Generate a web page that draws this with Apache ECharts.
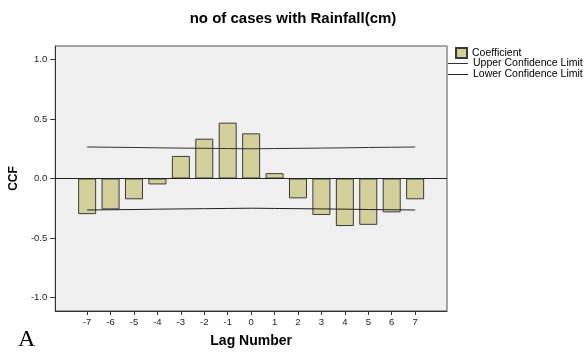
<!DOCTYPE html>
<html>
<head>
<meta charset="utf-8">
<script src="https://cdn.jsdelivr.net/npm/echarts@6/dist/echarts.min.js"></script>
<style>
html,body{margin:0;padding:0;background:#fff;}
#chart{width:584px;height:353px;}
</style>
</head>
<body>
<div id="chart"></div>
<script>
const lags = [-7, -6, -5, -4, -3, -2, -1, 0, 1, 2, 3, 4, 5, 6, 7];
const coefficient = [-0.30, -0.26, -0.175, -0.05, 0.19, 0.335, 0.47, 0.38, 0.045, -0.167, -0.307, -0.40, -0.39, -0.285, -0.175];
const upperLimit = [0.265, 0.263, 0.261, 0.258, 0.256, 0.254, 0.252, 0.25, 0.252, 0.254, 0.256, 0.258, 0.261, 0.263, 0.265];
const lowerLimit = [-0.265, -0.263, -0.261, -0.258, -0.256, -0.254, -0.252, -0.25, -0.252, -0.254, -0.256, -0.258, -0.261, -0.263, -0.265];
const yTicks = [-1.0, -0.5, 0.0, 0.5, 1.0];

const font = '"Liberation Sans", Arial, sans-serif';
const chart = echarts.init(document.getElementById('chart'), null, {renderer: 'canvas'});

chart.setOption({
  animation: false,
  backgroundColor: '#ffffff',
  title: {
    text: 'no of cases with Rainfall(cm)',
    left: 293, top: 11, textAlign: 'center', padding: 0,
    textStyle: {fontFamily: font, fontSize: 15, fontWeight: 'bold', color: '#000'}
  },
  legend: [
    {
      data: [{name: 'Coefficient', icon: 'rect'}],
      left: 455, top: 47, orient: 'vertical', padding: 0,
      itemWidth: 11, itemHeight: 10,
      textStyle: {fontFamily: font, fontSize: 10.5, color: '#000'},
      selectedMode: false
    },
    {
      data: [
        {name: 'Upper Confidence Limit', icon: 'rect'},
        {name: 'Lower Confidence Limit', icon: 'rect'}
      ],
      left: 448, top: 58, orient: 'vertical', padding: 0,
      itemWidth: 20, itemHeight: 1, itemGap: 0,
      textStyle: {fontFamily: font, fontSize: 10.5, color: '#000', lineHeight: 10},
      selectedMode: false
    }
  ],
  grid: {
    left: 53, top: 46, right: 137, bottom: 37,
    show: true, backgroundColor: '#f0f0f0', borderColor: '#555', borderWidth: 1
  },
  xAxis: {
    type: 'value', min: -8.36, max: 8.36,
    name: 'Lag Number', nameLocation: 'middle', nameGap: 23,
    nameTextStyle: {fontFamily: font, fontSize: 14, fontWeight: 'bold', color: '#000'},
    axisLine: {show: true, onZero: false, lineStyle: {color: '#333'}},
    axisTick: {show: true, length: 4, customValues: lags, lineStyle: {color: '#333'}},
    axisLabel: {customValues: lags, fontFamily: font, fontSize: 9.5, color: '#222', margin: 6},
    splitLine: {show: false}
  },
  yAxis: {
    type: 'value', min: -1.115, max: 1.115,
    name: 'CCF', nameLocation: 'middle', nameGap: 35,
    nameTextStyle: {fontFamily: font, fontSize: 12, fontWeight: 'bold', color: '#000'},
    axisLine: {show: true, onZero: false, lineStyle: {color: '#333'}},
    axisTick: {show: true, length: 5, customValues: yTicks, lineStyle: {color: '#333'}},
    axisLabel: {customValues: yTicks, fontFamily: font, fontSize: 9.5, color: '#222', margin: 8,
      formatter: v => v.toFixed(1)},
    splitLine: {show: false}
  },
  series: [
    {
      name: 'Coefficient', type: 'bar', barWidth: 18,
      data: lags.map((l, i) => [l, coefficient[i]]),
      itemStyle: {color: '#d4d09b', borderColor: '#3a3a3a', borderWidth: 1},
      markLine: {
        silent: true, symbol: 'none', label: {show: false},
        lineStyle: {color: '#222', width: 1, type: 'solid'},
        data: [{yAxis: 0}]
      }
    },
    {
      name: 'Upper Confidence Limit', type: 'line', symbol: 'none',
      data: lags.map((l, i) => [l, upperLimit[i]]),
      lineStyle: {color: '#333', width: 1}, itemStyle: {color: '#333'}
    },
    {
      name: 'Lower Confidence Limit', type: 'line', symbol: 'none',
      data: lags.map((l, i) => [l, lowerLimit[i]]),
      lineStyle: {color: '#222', width: 1}, itemStyle: {color: '#222'}
    }
  ],
  graphic: [{
    type: 'text', left: 18, top: 328,
    style: {text: 'A', font: '24px "Liberation Serif", "Times New Roman", serif', fill: '#000'}
  }]
});
</script>
</body>
</html>
